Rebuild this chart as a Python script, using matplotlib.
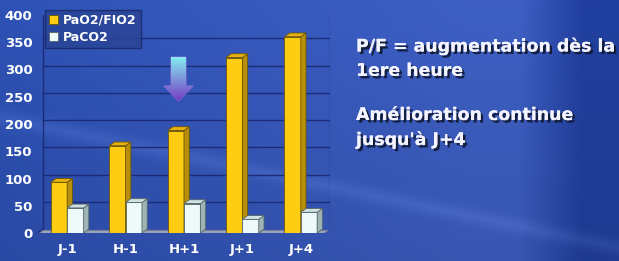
import numpy as np
import matplotlib
matplotlib.use("Agg")
import matplotlib.pyplot as plt
from matplotlib.patches import Polygon
import matplotlib.patheffects as pe

categories = ["J-1", "H-1", "H+1", "J+1", "J+4"]
pao2_fio2 = [93, 160, 188, 322, 360]
paco2 = [46, 56, 54, 25, 38]
series_names = ["PaO2/FIO2", "PaCO2"]
yticks = [0, 50, 100, 150, 200, 250, 300, 350, 400]
notes = ["P/F = augmentation dès la\n1ere heure", "Amélioration continue\njusqu'à J+4"]

W, H = 619, 261
fig = plt.figure(figsize=(W / 100, H / 100), dpi=100)

# background gradient
bg = fig.add_axes([0, 0, 1, 1])
bg.set_axis_off()
xx = np.linspace(0, 1, 300)
yy = np.linspace(0, 1, 130)
X, Y = np.meshgrid(xx, yy)
c_left = np.array([0x2E, 0x52, 0xB6]) / 255
c_mid = np.array([0x3E, 0x5F, 0xC4]) / 255
c_right = np.array([0x22, 0x40, 0xA0]) / 255
t1 = np.clip(X / 0.75, 0, 1)[..., None]
img = c_left * (1 - t1) + c_mid * t1
t2 = np.clip((X - 0.84) / 0.1, 0, 1)[..., None]
img = img * (1 - t2) + c_right * t2
img = img * (0.90 + 0.10 * Y[..., None])
streak = np.exp(-((Y - (0.55 - 0.5 * X)) / 0.03) ** 2) * 0.05
img = np.clip(img + streak[..., None], 0, 1)
bg.imshow(img, extent=[0, 1, 0, 1], aspect="auto", origin="lower")
bg.set_xlim(0, 1)
bg.set_ylim(0, 1)

# chart axes
ax = fig.add_axes([38 / W, 28 / H, 292 / W, 218 / H])
ax.set_facecolor("none")
ax.set_xlim(-0.5, len(categories) - 0.5)
ax.set_ylim(0, 400)
for s in ax.spines.values():
    s.set_visible(False)

x = np.arange(len(categories))
w = 0.28
dx, dy = 0.09, 7
gc = "#1B2D78"

for v in yticks[1:]:
    ax.plot([-0.5 + dx, len(categories) - 0.5], [v + dy, v + dy], color=gc, lw=1.0, zorder=1)
ax.plot([-0.5 + dx, -0.5 + dx], [dy, 400], color=gc, lw=1.0, zorder=1)
ax.plot([len(categories) - 0.5, len(categories) - 0.5], [dy, 400], color=gc, lw=1.0, zorder=1)
ax.plot([-0.5, -0.5 + dx], [0, dy], color=gc, lw=1.0, zorder=1)

floor = Polygon([(-0.5, -2), (len(categories) - 0.62, -2), (len(categories) - 0.62 + dx, dy - 2), (-0.5 + dx, dy - 2)],
                closed=True, facecolor="#9AA3B5", edgecolor="#6F7A95", lw=0.6, zorder=2)
ax.add_patch(floor)

def bar3d(xs, vals, front, side, top, edge, z):
    bars = ax.bar(xs, vals, width=w, color=front, edgecolor=edge, linewidth=0.6, zorder=z)
    for b in bars:
        x0 = b.get_x()
        x1 = x0 + b.get_width()
        h = b.get_height()
        ax.add_patch(Polygon([(x1, 0), (x1 + dx, dy), (x1 + dx, h + dy), (x1, h)], closed=True,
                             facecolor=side, edgecolor=edge, lw=0.6, zorder=z))
        ax.add_patch(Polygon([(x0, h), (x1, h), (x1 + dx, h + dy), (x0 + dx, h + dy)], closed=True,
                             facecolor=top, edgecolor=edge, lw=0.6, zorder=z))
    return bars

b1 = bar3d(x - w / 2, pao2_fio2, "#FFCC14", "#B88F0A", "#E8B010", "#6B5505", 4)
b2 = bar3d(x + w / 2, paco2, "#EEFAFA", "#9FB5B5", "#D0E2E2", "#556666", 5)

ax.set_yticks(yticks)
ax.set_yticklabels([str(v) for v in yticks], color="white", fontsize=9.5, fontweight="bold")
ax.set_xticks(x)
ax.set_xticklabels(categories, color="white", fontsize=9.5, fontweight="bold")
ax.tick_params(length=0, pad=4)
ax.tick_params(axis="x", pad=7)

leg = ax.legend([b1, b2], series_names, loc="upper left", bbox_to_anchor=(7 / 292, 1.025),
                borderaxespad=0, frameon=True, fontsize=9, handlelength=0.7, handleheight=0.7,
                handletextpad=0.4, borderpad=0.35, labelspacing=0.3, fancybox=False)
leg.get_frame().set_facecolor("#2A4496")
leg.get_frame().set_edgecolor("#1A2A6A")
leg.get_frame().set_alpha(0.85)
for t in leg.get_texts():
    t.set_color("white")
    t.set_fontweight("bold")

# arrow decoration with gradient
arr = fig.add_axes([0, 0, 1, 1])
arr.set_axis_off()
arr.set_xlim(0, W)
arr.set_ylim(H, 0)
arr.patch.set_alpha(0)
poly = Polygon([(171, 57), (186, 57), (186, 86), (193, 86), (178.5, 101), (164, 86), (171, 86)], closed=True,
               facecolor="none", edgecolor="#8C6AD8", lw=0.8)
arr.add_patch(poly)
grad = np.linspace(0, 1, 100)[:, None]
top_c = np.array([0x86, 0xEC, 0xF2]) / 255
bot_c = np.array([0x74, 0x3C, 0xC2]) / 255
gimg = top_c * (1 - grad[..., None]) + bot_c * grad[..., None]
gimg = np.repeat(gimg, 2, axis=1)
im = arr.imshow(gimg, extent=[164, 193, 101, 57], aspect="auto", zorder=1)
im.set_clip_path(poly)

shadow = [pe.withSimplePatchShadow(offset=(1.8, -1.8), shadow_rgbFace="#101830", alpha=0.9), pe.Normal()]
fig.text(356 / W, 1 - 37 / H, notes[0], color="#F4F4FF", fontsize=12.5, fontweight="bold",
         va="top", ha="left", linespacing=1.45, path_effects=shadow, family="DejaVu Sans")
fig.text(356 / W, 1 - 106 / H, notes[1], color="#F4F4FF", fontsize=12.5, fontweight="bold",
         va="top", ha="left", linespacing=1.45, path_effects=shadow, family="DejaVu Sans")

fig.savefig("out.png", dpi=100)
